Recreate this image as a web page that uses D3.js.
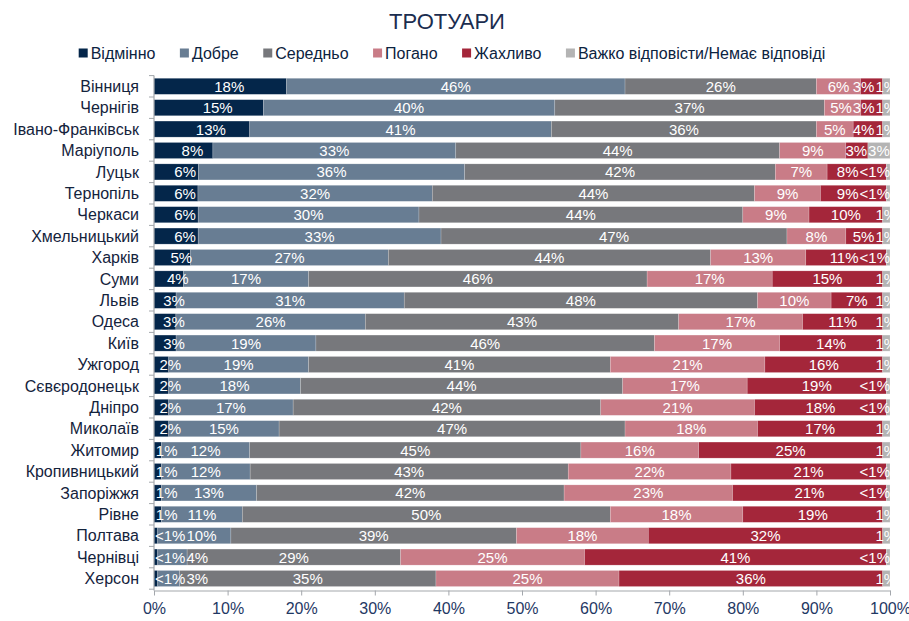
<!DOCTYPE html>
<html><head><meta charset="utf-8">
<script src="https://cdn.jsdelivr.net/npm/d3@7"></script>
<style>
html,body{margin:0;padding:0;background:#fff;}
svg{display:block;}
</style></head>
<body>
<svg id="chart" width="909" height="621"></svg>
<script>
const title = "ТРОТУАРИ";
const seriesNames = ["Відмінно","Добре","Середньо","Погано","Жахливо","Важко відповісти/Немає відповіді"];
const colors = ["#04264a","#687d93","#77787c","#c97c87","#a4263a","#b4b4b4"];
const categories = ["Вінниця","Чернігів","Івано-Франківськ","Маріуполь","Луцьк","Тернопіль","Черкаси","Хмельницький","Харків","Суми","Львів","Одеса","Київ","Ужгород","Сєвєродонецьк","Дніпро","Миколаїв","Житомир","Кропивницький","Запоріжжя","Рівне","Полтава","Чернівці","Херсон"];
const excellent = [18,15,13,8,6,6,6,6,5,4,3,3,3,2,2,2,2,1,1,1,1,0.5,0.5,0.5];
const good      = [46,40,41,33,36,32,30,33,27,17,31,26,19,19,18,17,15,12,12,13,11,10,4,3];
const average   = [26,37,36,44,42,44,44,47,44,46,48,43,46,41,44,42,47,45,43,42,50,39,29,35];
const poor      = [6,5,5,9,7,9,9,8,13,17,10,17,17,21,17,21,18,16,22,23,18,18,25,25];
const terrible  = [3,3,4,3,8,9,10,5,11,15,7,11,14,16,19,18,17,25,21,21,19,32,41,36];
const hardToSay = [1,1,1,3,0.5,0.5,1,1,0.5,1,1,1,1,1,0.5,0.5,1,1,0.5,0.5,1,1,0.5,1];
const xTicks = [0,0.1,0.2,0.3,0.4,0.5,0.6,0.7,0.8,0.9,1];

const seriesArrays = [excellent, good, average, poor, terrible, hardToSay];
const keys = seriesNames;
const table = categories.map((c,i)=>{
  const o = {cat:c};
  keys.forEach((k,j)=> o[k] = seriesArrays[j][i]);
  return o;
});
const fmt = v => v < 1 ? "<1%" : v + "%";

const svg = d3.select("#chart");
const left = 154, right = 890;
const x = d3.scaleLinear().domain([0,1]).range([left,right]);
const y = d3.scaleBand().domain(categories).range([75.6,589.2]).paddingInner(0.25).paddingOuter(0.125);

const stack = d3.stack().keys(keys).offset(d3.stackOffsetExpand);
const stacked = stack(table);

// Title
svg.append("text").attr("x",447).attr("y",29).attr("text-anchor","middle")
  .attr("font-family","'Liberation Sans', Arial, sans-serif").attr("font-size",22)
  .attr("fill","#1b2d4f").text(title);

// Legend
const lg = svg.append("g");
let lx = 0;
const items = [];
keys.forEach((k,j)=>{
  const g = lg.append("g");
  g.append("rect").attr("x",lx).attr("y",48.5).attr("width",9).attr("height",9).attr("fill",colors[j]);
  const t = g.append("text").attr("x",lx+12).attr("y",59)
    .attr("font-family","'Liberation Sans', Arial, sans-serif").attr("font-size",16)
    .attr("fill","#0c2340").text(k);
  const w = t.node().getComputedTextLength();
  lx += 12 + w + 24.5;
});
const legendW = lx - 24.5;
lg.attr("transform",`translate(${452 - legendW/2},0)`);

// Bars
const layers = svg.append("g").selectAll("g").data(stacked).join("g").attr("fill",(d,i)=>colors[i]);
layers.selectAll("rect").data(d=>d).join("rect")
  .attr("x",d=>x(d[0])).attr("width",d=>Math.max(0,x(d[1])-x(d[0])))
  .attr("y",d=>y(d.data.cat)).attr("height",y.bandwidth())
  .attr("stroke","#ffffff").attr("stroke-opacity",0.3).attr("stroke-width",0.6);

// Axes
const axisColor = "#a3a7ac";
const yAxis = svg.append("g");
yAxis.append("line").attr("x1",left).attr("x2",left).attr("y1",y.range()[0]).attr("y2",590.5)
  .attr("stroke",axisColor).attr("stroke-width",1.2);
const bounds = categories.map(c=>y(c)-y.step()*y.paddingInner()/2).concat([y.range()[1]]);
yAxis.selectAll("line.tk").data(bounds).join("line").attr("class","tk")
  .attr("x1",left-5).attr("x2",left).attr("y1",d=>d).attr("y2",d=>d)
  .attr("stroke",axisColor).attr("stroke-width",1);
yAxis.selectAll("text").data(categories).join("text")
  .attr("x",139).attr("y",d=>y(d)+y.bandwidth()/2).attr("dy","0.36em")
  .attr("text-anchor","end").attr("font-family","'Liberation Sans', Arial, sans-serif")
  .attr("font-size",16).attr("fill","#14233c").text(d=>d);

const xAxis = svg.append("g").attr("transform","translate(0,590.5)")
  .call(d3.axisBottom(x).tickValues(xTicks).tickFormat(d3.format(".0%")).tickSizeInner(5).tickSizeOuter(0).tickPadding(7));
xAxis.select(".domain").attr("stroke",axisColor).attr("stroke-width",1.2);
xAxis.selectAll(".tick line").attr("stroke",axisColor);
xAxis.selectAll(".tick text").attr("font-family","'Liberation Sans Narrow', 'Liberation Sans', sans-serif")
  .attr("font-size",16).attr("fill","#1f3864");

// Data labels
svg.append("clipPath").attr("id","plotclip").append("rect")
  .attr("x",left).attr("y",70).attr("width",right-left).attr("height",525);
const lblG = svg.append("g").attr("clip-path","url(#plotclip)");
const mid = x(0.5);
categories.forEach((c,i)=>{
  const labs = stacked.map((s,j)=>{
    const d = s[i];
    const v = seriesArrays[j][i];
    const t = lblG.append("text").attr("y",y(c)+y.bandwidth()/2).attr("dy","0.36em")
      .attr("text-anchor","middle")
      .attr("font-family","'Liberation Sans Narrow', 'Liberation Sans', sans-serif")
      .attr("font-size",15).attr("fill","#ffffff").text(fmt(v));
    const w = t.node().getComputedTextLength();
    let cx = x((d[0]+d[1])/2) + (j===0 ? 9 : 0);
    if (j===0) cx = Math.max(cx, left + 1 + w/2);
    if (j===stacked.length-1 && v < 1) cx = Math.min(cx, right - w/2);
    return {t, w, cx};
  });
  // right side: push left
  for (let j=labs.length-2;j>=0;j--){
    const a = labs[j], b = labs[j+1];
    if (a.cx > mid && a.cx + a.w/2 > b.cx - b.w/2 - 1) a.cx = b.cx - b.w/2 - 1 - a.w/2;
  }
  // left side: push right
  for (let j=1;j<labs.length;j++){
    const a = labs[j-1], b = labs[j];
    if (a.cx <= mid && b.cx - b.w/2 < a.cx + a.w/2 + 1) b.cx = a.cx + a.w/2 + 1 + b.w/2;
  }
  labs.forEach(l=>l.t.attr("x",l.cx));
});
</script>
</body></html>
